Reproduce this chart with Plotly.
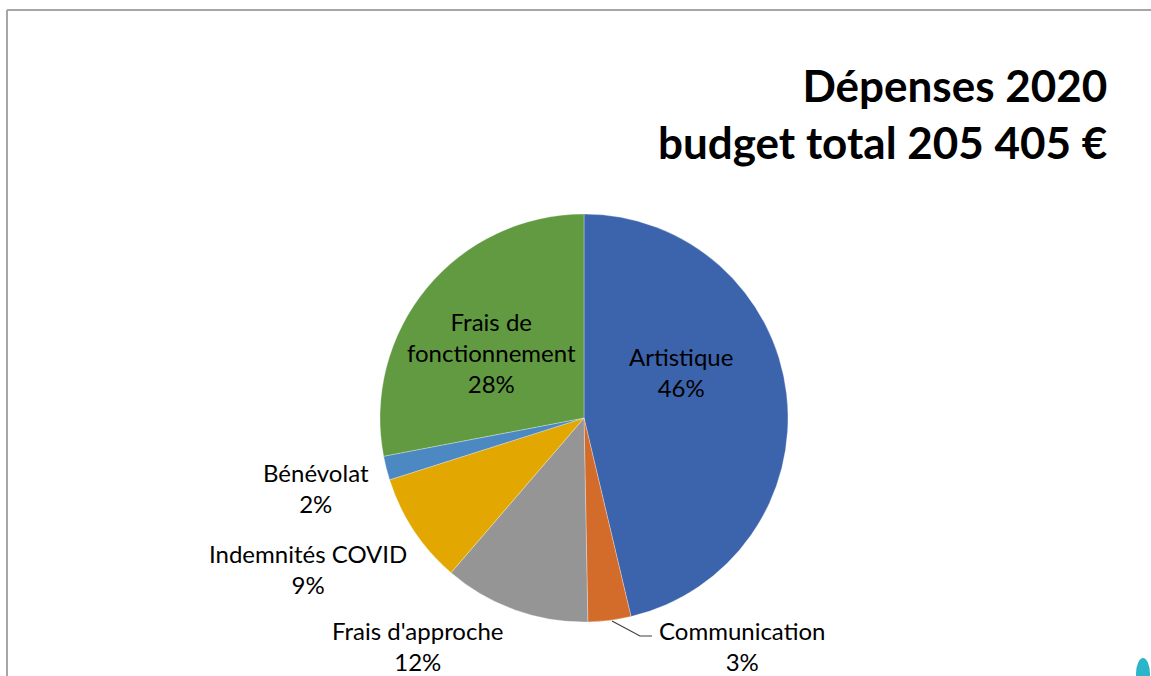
import plotly.graph_objects as go

W, H = 1151, 676

categories = ["Artistique", "Communication", "Frais d'approche", "Indemnités COVID",
              "Bénévolat", "Frais de fonctionnement"]
values = [46.3, 3.4, 11.6, 8.8, 1.9, 28.0]
colors = ["#3C64AD", "#D36B2A", "#959595", "#E3A702", "#4C88C2", "#619A41"]
display_names = ["Artistique", "Communication", "Frais d'approche", "Indemnités COVID",
                 "Bénévolat", "Frais de<br>fonctionnement"]
title_lines = ["Dépenses 2020", "budget total 205 405 €"]

# label centre positions in pixels (layout only)
label_pos = [(681, 372), (742, 646), (418, 646), (308, 569), (316, 488), (491, 352)]

FONT = "Lato"

def P(px, py):
    """page pixel -> paper coords"""
    return px / W, 1 - py / H

cx, cy, r = 584, 418, 204
dx0, dy1 = P(cx - r, cy - r)
dx1, dy0 = P(cx + r, cy + r)

fig = go.Figure(go.Pie(
    labels=categories, values=values, sort=False, direction="clockwise", rotation=0,
    marker=dict(colors=colors, line=dict(color="white", width=0.3)),
    textinfo="none", hoverinfo="label+percent", showlegend=False,
    domain=dict(x=[dx0, dx1], y=[dy0, dy1]),
))

total = sum(values)
annotations = []
for name, v, (px, py) in zip(display_names, values, label_pos):
    pct = round(v / total * 100)
    x, y = P(px, py)
    annotations.append(dict(
        x=x, y=y, xref="paper", yref="paper",
        text=f"{name}<br>{pct}%", showarrow=False, xanchor="center", yanchor="middle",
        font=dict(family=FONT, size=24, color="#000000"), align="center",
    ))

tx, ty = P(1109, 113)
annotations.append(dict(
    x=tx, y=ty, xref="paper", yref="paper",
    text="<br>".join(f"<b>{t}</b>" for t in title_lines), showarrow=False,
    xanchor="right", yanchor="middle",
    font=dict(family=FONT, size=44, color="#000000"), align="right",
))

shapes = []
# frame lines
fx, fy = P(7, 10)
shapes.append(dict(type="line", xref="paper", yref="paper", x0=fx, y0=0, x1=fx, y1=fy,
                   line=dict(color="#A6A6A6", width=2)))
shapes.append(dict(type="line", xref="paper", yref="paper", x0=fx, y0=fy, x1=1, y1=fy,
                   line=dict(color="#A6A6A6", width=2)))
# leader line for Communication
a = P(612, 621); b = P(640, 636); c = P(652, 636)
shapes.append(dict(type="path", xref="paper", yref="paper",
                   path=f"M {a[0]} {a[1]} L {b[0]} {b[1]} L {c[0]} {c[1]}",
                   line=dict(color="#404040", width=1.2)))
# small teal blob at bottom right
e0 = P(1136, 690); e1 = P(1150, 658)
shapes.append(dict(type="circle", xref="paper", yref="paper", x0=e0[0], y0=e0[1], x1=e1[0], y1=e1[1],
                   fillcolor="#2BB5C8", line=dict(width=0)))

fig.update_layout(
    width=W, height=H, margin=dict(l=0, r=0, t=0, b=0),
    paper_bgcolor="white", plot_bgcolor="white",
    annotations=annotations, shapes=shapes,
    font=dict(family=FONT),
)

fig.write_html("out.html", config={"displayModeBar": False},
               post_script="document.body.style.margin='0';document.body.style.overflow='hidden';")
